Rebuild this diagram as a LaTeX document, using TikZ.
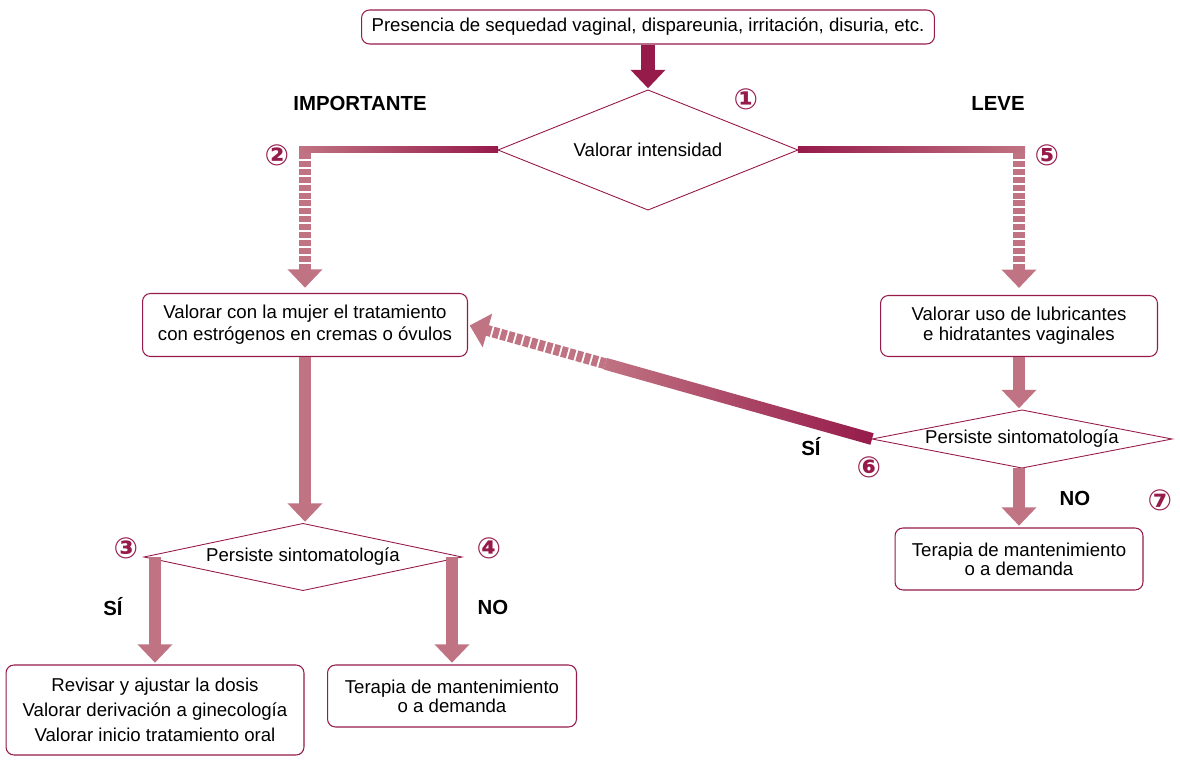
\documentclass[tikz,border=0pt]{standalone}
\usepackage{fontspec}
\setmainfont{Liberation Sans}
\newfontfamily\circfont{DejaVu Sans}
\usetikzlibrary{shapes.geometric,arrows.meta,calc}
\definecolor{granate}{RGB}{150,27,75}
\definecolor{rosa}{RGB}{192,115,130}

\begin{document}
\begin{tikzpicture}[x=0.02cm,y=-0.02cm,
    font=\fontsize{10.6}{12.5}\selectfont,
    caja/.style={draw=granate,line width=0.6pt,rounded corners=4.5pt,fill=white,align=center,inner sep=0pt},
    rombo/.style={diamond,draw=granate,line width=0.5pt,fill=white,inner sep=0pt,outer sep=0pt},
    flecha/.style={rosa,line width=6.8pt,-{Triangle[width=19.3pt,length=10.5pt]},shorten >=1pt},
    rayada/.style={flecha,dash pattern=on 3.4pt off 1.1pt},
    etiq/.style={font=\fontsize{11.6}{13}\selectfont\bfseries},
    num/.style={text=granate,font=\circfont\bfseries\fontsize{16.5}{17}\selectfont}]
  \useasboundingbox (0,0) rectangle (1180,763);
  % cajas y rombos
  \node[caja,minimum width=11.46cm,minimum height=0.68cm] (P) at (648,27)
    {Presencia de sequedad vaginal, dispareunia, irritación, disuria, etc.};
  \node[rombo,aspect=2.5,minimum width=6cm,minimum height=2.4cm] (V) at (648,150) {Valorar intensidad};
  \node[caja,minimum width=6.5cm,minimum height=1.26cm] (E) at (305,325)
    {Valorar con la mujer el tratamiento\\con estrógenos en cremas o óvulos};
  \node[caja,minimum width=5.54cm,minimum height=1.22cm,font=\fontsize{10.6}{11.3}\selectfont] (L) at (1019,326)
    {Valorar uso de lubricantes\\e hidratantes vaginales};
  \node[rombo,aspect=4.7,minimum width=6.36cm,minimum height=1.34cm] (DE) at (303,557) {Persiste sintomatología};
  \node[rombo,aspect=5.2,minimum width=6cm,minimum height=1.16cm] (DL) at (1022,439) {Persiste sintomatología};
  \node[caja,minimum width=5.96cm,minimum height=1.8cm,font=\fontsize{10.6}{14.2}\selectfont] (R) at (155,710)
    {Revisar y ajustar la dosis\\Valorar derivación a ginecología\\Valorar inicio tratamiento oral};
  \node[caja,minimum width=4.98cm,minimum height=1.24cm,font=\fontsize{10.6}{10.8}\selectfont] (TE) at (452,696)
    {Terapia de mantenimiento\\o a demanda};
  \node[caja,minimum width=4.96cm,minimum height=1.24cm,font=\fontsize{10.6}{10.8}\selectfont] (TL) at (1019,559)
    {Terapia de mantenimiento\\o a demanda};
  % rotulos
  \node[etiq] (imp) at (360,103) {IMPORTANTE};
  \node[etiq] (lev) at (998,103) {LEVE};
  \node[etiq] (si3) at (113,607) {SÍ};
  \node[etiq] (no4) at (493,607) {NO};
  \node[etiq] (si6) at (811,447) {SÍ};
  \node[etiq] (no7) at (1075,498) {NO};
  \node[num] (n1) at (746,99) {①};
  \node[num] (n2) at (277,155) {②};
  \node[num] (n3) at (126,548) {③};
  \node[num] (n4) at (489,548) {④};
  \node[num] (n5) at (1047,155) {⑤};
  \node[num] (n6) at (869,467) {⑥};
  \node[num] (n7) at (1160,500) {⑦};
  % flechas
  \draw[flecha,granate,line width=7.9pt] (P.south) -- (V.north);
  \coordinate (C2) at (305,150);
  \coordinate (C5) at (1019,150);
  \shade[left color=rosa,right color=granate] ($(C2)+(-6,-3)$) rectangle ($(V.west)+(0,3)$);
  \shade[left color=granate,right color=rosa] ($(V.east)+(0,-3)$) rectangle ($(C5)+(6,3)$);
  \draw[rayada,shorten >=3pt] ($(C2)+(0,3)$) -- (E.north);
  \draw[rayada,shorten >=4pt] ($(C5)+(0,3)$) -- (L.north);
  \draw[flecha] (E.south) -- (E.south |- DE.north);
  \draw[flecha] (DE.west -| R.north) -- (R.north);
  \draw[flecha] (DE.east -| TE.north) -- (TE.north);
  \draw[flecha] (L.south) -- (L.south |- DL.north);
  \draw[flecha] (TL.north |- DL.south) -- (TL.north);
  % SI de la derecha vuelve a los estrogenos
  \coordinate (M) at ($(DL.west)!0.66!(E.east)$);
  \shade[left color=rosa,right color=granate]
    ($(M)!0.12cm!90:(DL.west)$) -- ($(DL.west)!0.12cm!-90:(M)$)
    -- ($(DL.west)!0.12cm!90:(M)$) -- ($(M)!0.12cm!-90:(DL.west)$) -- cycle;
  \draw[rayada,line width=6.2pt] (M) -- (E.east);
\end{tikzpicture}
\end{document}
